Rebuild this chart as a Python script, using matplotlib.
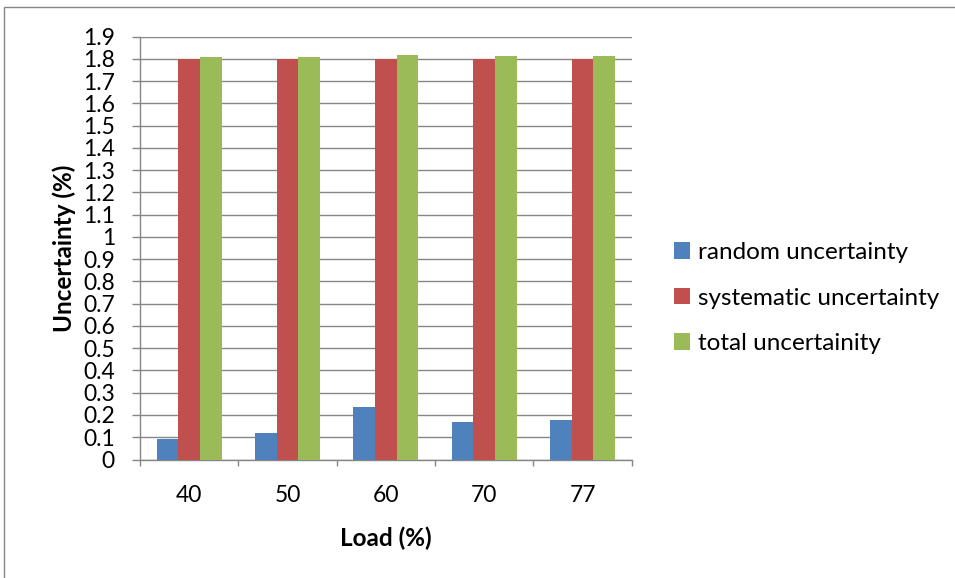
import matplotlib
matplotlib.use("Agg")
import matplotlib.pyplot as plt
import numpy as np
from matplotlib.patches import Rectangle

categories = ["40", "50", "60", "70", "77"]
random_unc = [0.09, 0.12, 0.237, 0.169, 0.176]
systematic_unc = [1.80, 1.80, 1.80, 1.80, 1.80]
total_unc = [1.808, 1.808, 1.82, 1.812, 1.812]
series_names = ["random uncertainty", "systematic uncertainty", "total uncertainity"]
colors = ["#4F81BD", "#C0504D", "#9BBB59"]
yticks = [round(0.1 * i, 1) for i in range(20)]
ytick_labels = ["0", "0.1", "0.2", "0.3", "0.4", "0.5", "0.6", "0.7", "0.8", "0.9",
                "1", "1.1", "1.2", "1.3", "1.4", "1.5", "1.6", "1.7", "1.8", "1.9"]

plt.rcParams['font.family'] = ['Lato', 'DejaVu Sans']

W, H = 955, 578
fig = plt.figure(figsize=(W / 100, H / 100), dpi=100)
ax = fig.add_axes([140 / W, 1 - 459.5 / H, (631.7 - 140) / W, (459.5 - 36.7) / H])

x = np.arange(len(categories))
bw = 0.22
for i, (vals, name, c) in enumerate(zip([random_unc, systematic_unc, total_unc], series_names, colors)):
    ax.bar(x + (i - 1) * bw, vals, width=bw, color=c, label=name, zorder=3)

ax.set_xlim(-0.5, len(categories) - 0.5)
ax.set_ylim(0, 1.9)
ax.set_yticks(yticks)
ax.set_yticklabels(ytick_labels, fontsize=16.5)
ax.set_xticks(x)
ax.set_xticklabels(categories, fontsize=16.5)
ax.set_xticks(np.arange(-0.5, len(categories)), minor=True)
ax.tick_params(axis='x', which='major', length=0, pad=18)
ax.tick_params(axis='x', which='minor', length=4, color='#868686', width=1)
ax.tick_params(axis='y', which='major', length=6, color='#868686', width=1, pad=12)
ax.grid(axis='y', color='#868686', linewidth=1, zorder=0)
for s in ['top', 'right']:
    ax.spines[s].set_visible(False)
for s in ['left', 'bottom']:
    ax.spines[s].set_color('#868686')
    ax.spines[s].set_linewidth(1)

ax.set_xlabel("Load (%)", fontsize=17.5, fontweight='bold', labelpad=15)
ax.set_ylabel("Uncertainty (%)", fontsize=17.5, fontweight='bold', labelpad=5)

leg = fig.legend(loc='upper left', bbox_to_anchor=(664 / W, 1 - 232 / H), frameon=False,
                 fontsize=17.5, handlelength=0.68, handleheight=0.68, handletextpad=0.3,
                 labelspacing=1.02, borderaxespad=0)

fig.patches.append(Rectangle((4 / W, -0.1), 1.2, 1 - 7 / H + 0.1, transform=fig.transFigure,
                             fill=False, edgecolor='#868686', linewidth=1))

fig.savefig("out.png", dpi=100)
